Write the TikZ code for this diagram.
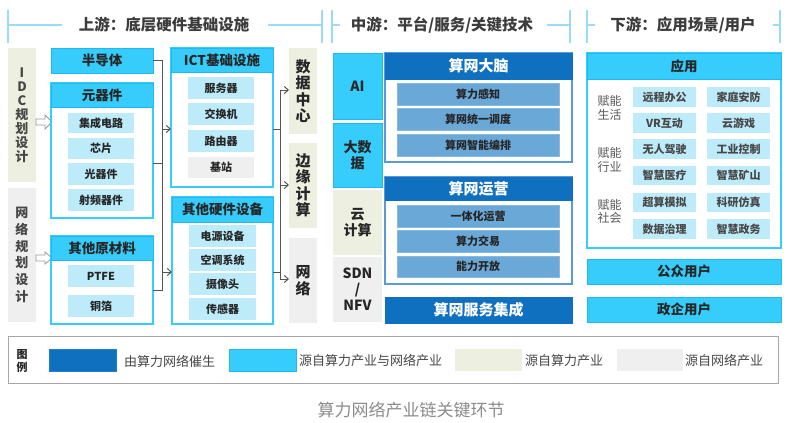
\documentclass[tikz,border=0pt]{standalone}
\usepackage{fontspec}
\setmainfont{Noto Sans CJK SC}
\usetikzlibrary{arrows.meta,calc}
\definecolor{cyanA}{HTML}{36CDFC}
\definecolor{cyanB}{HTML}{22B8EE}
\definecolor{lcyan}{HTML}{BDEBFA}
\definecolor{dblue}{HTML}{1070C0}
\definecolor{mblue}{HTML}{6AA8D8}
\definecolor{gborder}{HTML}{5B9BD5}
\definecolor{beige}{HTML}{EDF0E1}
\definecolor{lgray}{HTML}{EFEFEF}
\definecolor{hdrline}{HTML}{9BDCF5}
\definecolor{txt}{HTML}{262626}
\definecolor{lab}{HTML}{595959}
\definecolor{capgray}{HTML}{8C8C8C}
\definecolor{conngray}{HTML}{555555}
\newcommand\fs[2]{\fontsize{#1}{#2}\selectfont}
\newcommand\bx[7]{\node[#1, minimum width={(#4)-(#2)}, minimum height={(#5)-(#3)}] (#6) at ({((#2)+(#4))/2},{((#3)+(#5))/2}) {#7};}
\begin{document}
\begin{tikzpicture}[x=1pt,y=-1pt,
  every node/.style={inner sep=0pt, outer sep=0pt, text=txt},
  hdr/.style={fill=cyanA, draw=cyanB, line width=0.8pt, font=\fs{13.5}{16}\bfseries},
  grp/.style={draw=cyanA, line width=1.5pt, fill=white},
  item/.style={fill=lcyan, font=\fs{11}{13}\bfseries},
  planb/.style={font=\fs{13}{14}\bfseries, align=center, text=lab!80!black},
  side/.style={font=\fs{15}{16.5}\bfseries, align=center},
  mside/.style={font=\fs{14}{16}\bfseries, align=center},
  mgrp/.style={draw=gborder, line width=1.3pt, fill=white},
  dhdr/.style={fill=dblue, draw=dblue, line width=0.8pt, text=white, font=\fs{15}{17}\bfseries},
  mitem/.style={fill=mblue, draw=mblue!80!white, line width=0.4pt, font=\fs{11}{13}\bfseries},
  aitem/.style={fill=lcyan, font=\fs{11}{13}\bfseries, text=txt!85!white},
  alab/.style={font=\fs{12}{13.5}, align=left, text=lab},
  sechdr/.style={font=\fs{15.5}{18}\bfseries, text=txt!90!white},
  hline/.style={draw=hdrline, line width=1.6pt},
  conn/.style={draw=conngray, line width=1pt},
  arr/.style={-{Straight Barb[length=4pt,width=7pt]}},
  harrow/.style={draw=gray!80, line width=0.8pt, fill=white},
  legtxt/.style={font=\fs{13}{15}, text=txt!85!white, anchor=west},
  legbox/.style={draw=gray!70, line width=1pt, fill=white}
]
\useasboundingbox (0,0) rectangle (788,423);
\fill[white] (0,0) rectangle (788,423);

% ---- section headers
\draw[hline] (8,10) -- (8,43);
\draw[hline] (8,25) -- (62,25);
\draw[hline] (268,25) -- (322,25);
\draw[hline] (322,10) -- (322,43);
\node[sechdr] (h1) at (164,25) {上游：底层硬件基础设施};
\draw[hline] (332,10) -- (332,43);
\draw[hline] (332,25) -- (340,25);
\draw[hline] (547,25) -- (570,25);
\draw[hline] (570,10) -- (570,43);
\node[sechdr] (h2) at (442,25) {中游：平台/服务/关键技术};
\draw[hline] (587,10) -- (587,43);
\draw[hline] (587,25) -- (595,25);
\draw[hline] (773,25) -- (780,25);
\draw[hline] (780,10) -- (780,43);
\node[sechdr] (h3) at (683,25) {下游：应用场景/用户};

% ---- left planning boxes
\bx{planb,fill=beige}{8}{48}{36}{182}{idc}{I\\D\\C\\规\\划\\设\\计}
\bx{planb,fill=lgray,font=\fs{13}{16.8}\bfseries}{8}{188}{36}{322}{netp}{网\\络\\规\\划\\设\\计}
\draw[harrow] (36,119) -- (45,119) -- (45,115) -- (52,122) -- (45,129) -- (45,125) -- (36,125) -- cycle;
\draw[harrow] (36,255) -- (45,255) -- (45,252) -- (52,258) -- (45,264) -- (45,261) -- (36,261) -- cycle;

% ---- components
\bx{hdr}{51}{48}{153}{73}{bdt}{半导体}
\bx{grp}{51}{83}{153}{218}{yqjg}{}
\bx{hdr}{51}{83}{153}{107}{yqj}{元器件}
\bx{item}{68}{113}{134}{133}{i1}{集成电路}
\bx{item}{68}{138}{134}{159}{i2}{芯片}
\bx{item}{68}{163}{134}{185}{i3}{光器件}
\bx{item}{68}{189}{134}{211}{i4}{射频器件}
\bx{grp}{51}{236}{153}{324}{ylg}{}
\bx{hdr}{51}{236}{153}{260}{yl}{其他原材料}
\bx{item}{68}{265}{134}{287}{i5}{PTFE}
\bx{item}{68}{295}{134}{317}{i6}{铜箔}

% ---- ICT & other hardware
\bx{grp}{171}{48}{273}{187}{ictg}{}
\bx{hdr}{171}{48}{273}{72}{ict}{ICT基础设施}
\bx{item}{188}{77}{254}{99}{c1}{服务器}
\bx{item}{188}{103}{254}{125}{c2}{交换机}
\bx{item}{188}{130}{254}{152}{c3}{路由器}
\bx{item,fill=lgray}{188}{157}{254}{178}{c4}{基站}
\bx{grp}{172}{197}{273}{324}{othg}{}
\bx{hdr}{172}{197}{273}{222}{oth}{其他硬件设备}
\bx{item}{189}{225}{256}{247}{d1}{电源设备}
\bx{item}{189}{249}{256}{271}{d2}{空调系统}
\bx{item}{189}{273}{256}{295}{d3}{摄像头}
\bx{item}{189}{298}{256}{320}{d4}{传感器}

% ---- targets
\bx{side,fill=beige}{289}{48}{317}{134}{dc}{数\\据\\中\\心}
\bx{side,fill=beige}{289}{143}{317}{228}{edge}{边\\缘\\计\\算}
\bx{side,fill=lgray}{289}{238}{317}{323}{net}{网\\络}

% ---- connectors left bus
\coordinate (bb) at (162,290);
\coordinate (bm) at (162,163);
\coordinate (ba1) at (162,129);
\coordinate (ba2) at (162,272);
\draw[conn] (bdt.east) -| (bb) -- (ylg.east |- bb);
\draw[conn] (yqjg.east |- bm) -- (bm);
\draw[conn,arr] (ba1) -- (ictg.west |- ba1);
\draw[conn,arr] (ba2) -- (othg.west |- ba2);
% ---- connectors right bus
\coordinate (r1) at (280,129);
\coordinate (r2) at (280,272);
\coordinate (rt) at (280,90);
\coordinate (rm) at (280,185);
\coordinate (rb) at (280,279);
\draw[conn] (ictg.east |- r1) -- (r1);
\draw[conn] (othg.east |- r2) -- (r2);
\draw[conn] (rt) -- (rb);
\draw[conn,arr] (rt) -- (dc.west |- rt);
\draw[conn,arr] (rm) -- (edge.west |- rm);
\draw[conn,arr] (rb) -- (net.west |- rb);

% ---- middle
\bx{mside,fill=cyanA,draw=cyanB,line width=0.8pt}{333}{53}{382}{119}{ai}{AI}
\bx{mside,fill=cyanA,draw=cyanB,line width=0.8pt}{333}{123}{382}{187}{bd}{大数\\据}
\bx{mside,fill=beige}{333}{190}{382}{255}{cloud}{云\\计算}
\bx{mside,fill=lgray}{333}{257}{382}{322}{sdn}{SDN\\/\\NFV}
\bx{mgrp}{385}{53}{572}{162}{brg}{}
\bx{dhdr}{385}{53}{572}{79}{br}{算网大脑}
\bx{mitem}{397}{83}{559}{105}{m1}{算力感知}
\bx{mitem}{397}{108}{559}{130}{m2}{算网统一调度}
\bx{mitem}{397}{134}{559}{156}{m3}{算网智能编排}
\bx{mgrp}{385}{177}{572}{284}{opg}{}
\bx{dhdr}{385}{177}{572}{200}{op}{算网运营}
\bx{mitem}{397}{205}{559}{227}{m4}{一体化运营}
\bx{mitem}{397}{230}{559}{252}{m5}{算力交易}
\bx{mitem}{397}{256}{559}{277}{m6}{能力开放}
\bx{dhdr}{385}{297}{572}{323}{svc}{算网服务集成}

% ---- right
\bx{grp}{587}{53}{781}{248}{appg}{}
\bx{hdr}{587}{53}{781}{79}{app}{应用}
\node[alab] (l1) at (609.5,108) {赋能\\生活};
\node[alab] (l2) at (609.5,160) {赋能\\行业};
\node[alab] (l3) at (609.5,211.5) {赋能\\社会};
\bx{aitem}{633}{87}{696}{107}{a1}{远程办公}
\bx{aitem}{707}{87}{770}{107}{a2}{家庭安防}
\bx{aitem}{633}{113}{696}{133}{a3}{VR互动}
\bx{aitem}{707}{113}{770}{133}{a4}{云游戏}
\bx{aitem}{633}{139}{696}{159}{a5}{无人驾驶}
\bx{aitem}{707}{139}{770}{159}{a6}{工业控制}
\bx{aitem}{633}{166}{696}{185}{a7}{智慧医疗}
\bx{aitem}{707}{166}{770}{185}{a8}{智慧矿山}
\bx{aitem}{633}{193}{696}{212}{a9}{超算模拟}
\bx{aitem}{707}{193}{770}{212}{a10}{科研仿真}
\bx{aitem}{633}{219}{696}{239}{a11}{数据治理}
\bx{aitem}{707}{219}{770}{239}{a12}{智慧政务}
\bx{hdr}{587}{259}{781}{284}{pub}{公众用户}
\bx{hdr}{587}{297}{781}{322}{gov}{政企用户}

% ---- legend
\bx{legbox}{8}{336}{778}{383}{leg}{}
\node[font=\fs{11}{13}\bfseries, align=center] (legt) at (22,361) {图\\例};
\bx{fill=dblue,draw=dblue!80!cyanA}{49}{349}{116}{371}{s1}{}
\node[legtxt] (t1) at (124,361) {由算力网络催生};
\bx{fill=cyanA,draw=cyanB}{229}{349}{296}{371}{s2}{}
\node[legtxt] (t2) at (299,361) {源自算力产业与网络产业};
\bx{fill=beige}{455}{349}{522}{371}{s3}{}
\node[legtxt] (t3) at (525,361) {源自算力产业};
\bx{fill=lgray}{617}{349}{683}{371}{s4}{}
\node[legtxt] (t4) at (685,361) {源自网络产业};

% ---- caption
\node[font=\fs{17}{20}, text=capgray] (cap) at (411,410) {算力网络产业链关键环节};
\end{tikzpicture}
\end{document}
